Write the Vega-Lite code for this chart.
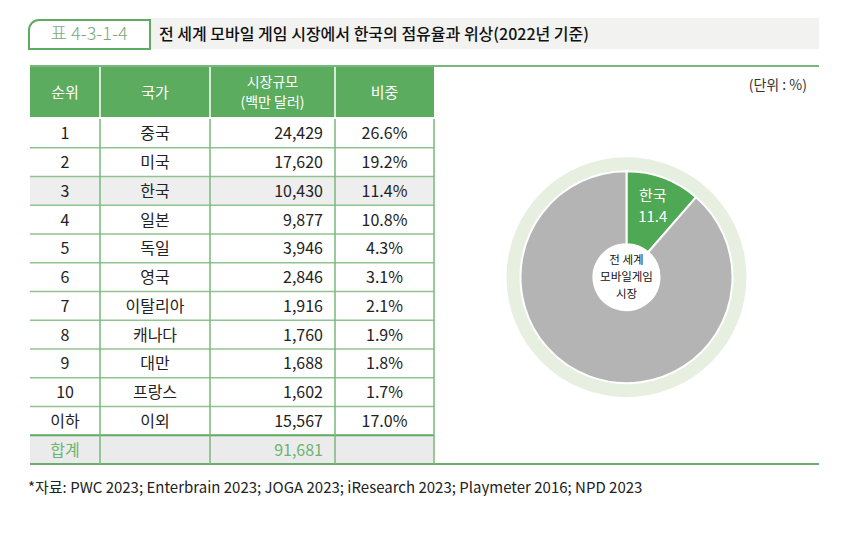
{
  "$schema": "https://vega.github.io/schema/vega-lite/v6.json",
  "background": "white",
  "padding": {"left": 28, "top": 18, "right": 0, "bottom": 0},
  "spacing": 0,
  "config": {
    "view": {"stroke": null},
    "font": "Noto Sans CJK KR",
    "axis": {"disable": true},
    "legend": {"disable": true},
    "concat": {"spacing": 0},
    "text": {"font": "Noto Sans CJK KR"}
  },
  "title": {
    "text": "*자료: PWC 2023; Enterbrain 2023; JOGA 2023; iResearch 2023; Playmeter 2016; NPD 2023",
    "orient": "bottom",
    "anchor": "start",
    "font": "Noto Sans CJK KR",
    "fontSize": 15,
    "fontWeight": "normal",
    "color": "#222222",
    "offset": 16
  },
  "datasets": {
    "table": [
      {"rank": "1", "country": "중국", "size": 24429, "share": 0.266},
      {"rank": "2", "country": "미국", "size": 17620, "share": 0.192},
      {"rank": "3", "country": "한국", "size": 10430, "share": 0.114},
      {"rank": "4", "country": "일본", "size": 9877, "share": 0.108},
      {"rank": "5", "country": "독일", "size": 3946, "share": 0.043},
      {"rank": "6", "country": "영국", "size": 2846, "share": 0.031},
      {"rank": "7", "country": "이탈리아", "size": 1916, "share": 0.021},
      {"rank": "8", "country": "캐나다", "size": 1760, "share": 0.019},
      {"rank": "9", "country": "대만", "size": 1688, "share": 0.018},
      {"rank": "10", "country": "프랑스", "size": 1602, "share": 0.017},
      {"rank": "이하", "country": "이외", "size": 15567, "share": 0.17},
      {"rank": "합계", "country": "", "size": 91681}
    ],
    "pie": [
      {"name": "한국", "share": 11.4},
      {"name": "그 외", "share": 88.6}
    ]
  },
  "vconcat": [
    {
      "width": 789,
      "height": 47,
      "data": {"values": [{"box": "표 4-3-1-4", "title": "전 세계 모바일 게임 시장에서 한국의 점유율과 위상(2022년 기준)"}]},
      "layer": [
        {
          "mark": {"type": "rect", "fill": "#f2f3f0"},
          "encoding": {"x": {"value": 120}, "x2": {"value": 789}, "y": {"value": 0}, "y2": {"value": 31}}
        },
        {
          "mark": {"type": "rect", "fill": "white", "stroke": "#5fab61", "strokeWidth": 2, "cornerRadiusTopLeft": 10},
          "encoding": {"x": {"value": -1}, "x2": {"value": 120}, "y": {"value": 2}, "y2": {"value": 31}}
        },
        {
          "mark": {"type": "text", "fontSize": 18, "color": "#7aa87c", "align": "center", "baseline": "middle", "fontWeight": 300},
          "encoding": {"text": {"field": "box"}, "x": {"value": 59}, "y": {"value": 17}}
        },
        {
          "mark": {"type": "text", "fontSize": 16, "color": "#111111", "align": "left", "baseline": "middle", "fontWeight": 500},
          "encoding": {"text": {"field": "title"}, "x": {"value": 129}, "y": {"value": 17}}
        }
      ]
    },
    {
      "width": 789,
      "height": 51,
      "data": {"values": [{"c1": "순위", "c2": "국가", "c3": "시장규모\n(백만 달러)", "c4": "비중", "unit": "(단위 : %)"}]},
      "layer": [
        {
          "mark": {"type": "rect", "fill": "#5cac5f"},
          "encoding": {
            "x": {"datum": 0, "type": "quantitative", "scale": {"type": "linear", "domain": [0, 1, 2, 3, 4, 5], "range": [0, 70, 180, 305, 404, 789], "nice": false, "zero": false}},
            "x2": {"datum": 4}
          }
        },
        {"mark": {"type": "rule", "color": "white", "strokeWidth": 1.5}, "encoding": {"x": {"datum": 1, "type": "quantitative"}}},
        {"mark": {"type": "rule", "color": "white", "strokeWidth": 1.5}, "encoding": {"x": {"datum": 2, "type": "quantitative"}}},
        {"mark": {"type": "rule", "color": "white", "strokeWidth": 1.5}, "encoding": {"x": {"datum": 3, "type": "quantitative"}}},
        {
          "mark": {"type": "rule", "color": "#7ab77c", "strokeWidth": 2},
          "encoding": {"x": {"datum": 0, "type": "quantitative"}, "x2": {"datum": 5}, "y": {"value": 0}}
        },
        {
          "mark": {"type": "text", "fontSize": 15, "color": "white", "baseline": "middle", "dy": 1},
          "encoding": {"text": {"field": "c1"}, "x": {"datum": 0.5, "type": "quantitative"}}
        },
        {
          "mark": {"type": "text", "fontSize": 15, "color": "white", "baseline": "middle", "dy": 1},
          "encoding": {"text": {"field": "c2"}, "x": {"datum": 1.5, "type": "quantitative"}}
        },
        {
          "mark": {"type": "text", "fontSize": 14, "color": "white", "baseline": "middle", "lineBreak": "\n", "lineHeight": 20.5, "dy": -9},
          "encoding": {"text": {"field": "c3"}, "x": {"datum": 2.5, "type": "quantitative"}}
        },
        {
          "mark": {"type": "text", "fontSize": 15, "color": "white", "baseline": "middle", "dy": 1},
          "encoding": {"text": {"field": "c4"}, "x": {"datum": 3.5, "type": "quantitative"}}
        },
        {
          "mark": {"type": "text", "fontSize": 14, "color": "#333333", "align": "right", "baseline": "middle", "dx": -12},
          "encoding": {"text": {"field": "unit"}, "x": {"datum": 5, "type": "quantitative"}, "y": {"value": 20}}
        }
      ]
    },
    {
      "width": 789,
      "height": 345,
      "data": {"name": "table"},
      "layer": [
        {
          "mark": {"type": "rect"},
          "encoding": {
            "x": {"datum": 0, "type": "quantitative", "scale": {"type": "linear", "domain": [0, 1, 2, 3, 4, 5], "range": [0, 70, 180, 305, 404, 789], "nice": false, "zero": false}},
            "x2": {"datum": 4},
            "y": {"field": "rank", "type": "nominal", "sort": null, "scale": {"type": "band", "domain": ["1", "2", "3", "4", "5", "6", "7", "8", "9", "10", "이하", "합계"], "paddingInner": 0, "paddingOuter": 0}},
            "fill": {
              "condition": [
                {"test": "datum.rank === '3'", "value": "#eeeeee"},
                {"test": "datum.rank === '합계'", "value": "#ebebeb"}
              ],
              "value": "white"
            }
          }
        },
        {
          "transform": [{"filter": "datum.rank !== '1' && datum.rank !== '합계'"}],
          "mark": {"type": "rule", "color": "#8fc38f", "strokeWidth": 1.5},
          "encoding": {
            "x": {"datum": 0, "type": "quantitative"},
            "x2": {"datum": 4},
            "y": {"field": "rank", "type": "nominal", "bandPosition": 0}
          }
        },
        {
          "transform": [{"filter": "datum.rank === '합계'"}],
          "mark": {"type": "rule", "color": "#5ea861", "strokeWidth": 2},
          "encoding": {
            "x": {"datum": 0, "type": "quantitative"},
            "x2": {"datum": 4},
            "y": {"field": "rank", "type": "nominal", "bandPosition": 0}
          }
        },
        {
          "transform": [{"filter": "datum.rank === '합계'"}],
          "mark": {"type": "rule", "color": "#6cac6e", "strokeWidth": 2},
          "encoding": {
            "x": {"datum": 0, "type": "quantitative"},
            "x2": {"datum": 5},
            "y": {"field": "rank", "type": "nominal", "bandPosition": 1}
          }
        },
        {"data": {"values": [{}]}, "mark": {"type": "rule", "color": "#79b87b", "strokeWidth": 1.5}, "encoding": {"x": {"datum": 1, "type": "quantitative"}}},
        {"data": {"values": [{}]}, "mark": {"type": "rule", "color": "#79b87b", "strokeWidth": 1.5}, "encoding": {"x": {"datum": 2, "type": "quantitative"}}},
        {"data": {"values": [{}]}, "mark": {"type": "rule", "color": "#79b87b", "strokeWidth": 1.5}, "encoding": {"x": {"datum": 3, "type": "quantitative"}}},
        {"data": {"values": [{}]}, "mark": {"type": "rule", "color": "#79b87b", "strokeWidth": 1.5}, "encoding": {"x": {"datum": 4, "type": "quantitative"}}},
        {
          "mark": {"type": "text", "fontSize": 16, "baseline": "middle", "dy": 1},
          "encoding": {
            "text": {"field": "rank"},
            "x": {"datum": 0.5, "type": "quantitative"},
            "y": {"field": "rank", "type": "nominal"},
            "color": {"condition": {"test": "datum.rank === '합계'", "value": "#6ab56c"}, "value": "#222222"}
          }
        },
        {
          "mark": {"type": "text", "fontSize": 16, "baseline": "middle", "color": "#222222", "dy": 1},
          "encoding": {
            "text": {"field": "country"},
            "x": {"datum": 1.5, "type": "quantitative"},
            "y": {"field": "rank", "type": "nominal"}
          }
        },
        {
          "mark": {"type": "text", "fontSize": 16, "baseline": "middle", "align": "right", "dx": -12, "dy": 1},
          "encoding": {
            "text": {"field": "size", "type": "quantitative", "format": ",d"},
            "x": {"datum": 3, "type": "quantitative"},
            "y": {"field": "rank", "type": "nominal"},
            "color": {"condition": {"test": "datum.rank === '합계'", "value": "#6ab56c"}, "value": "#222222"}
          }
        },
        {
          "transform": [{"filter": "isValid(datum.share)"}],
          "mark": {"type": "text", "fontSize": 16, "baseline": "middle", "color": "#222222", "dy": 1},
          "encoding": {
            "text": {"field": "share", "type": "quantitative", "format": ".1%"},
            "x": {"datum": 3.5, "type": "quantitative"},
            "y": {"field": "rank", "type": "nominal"}
          }
        },
        {
          "data": {"values": [{}]},
          "mark": {"type": "arc", "fill": "#e7efe1", "innerRadius": 104, "outerRadius": 120, "theta": 0, "theta2": 6.2832},
          "encoding": {"x": {"datum": 4.5, "type": "quantitative"}, "y": {"datum": "6", "type": "nominal"}}
        },
        {
          "data": {"name": "pie"},
          "mark": {"type": "arc", "innerRadius": 33, "outerRadius": 106, "stroke": "white", "strokeWidth": 2},
          "encoding": {
            "theta": {"field": "share", "type": "quantitative", "stack": true},
            "order": {"field": "share", "type": "quantitative", "sort": "ascending"},
            "color": {"field": "name", "type": "nominal", "scale": {"domain": ["한국", "그 외"], "range": ["#4fa854", "#b4b4b4"]}},
            "x": {"datum": 4.5, "type": "quantitative"},
            "y": {"datum": "6", "type": "nominal"}
          }
        },
        {
          "data": {"name": "pie"},
          "transform": [{"filter": "datum.name === '한국'"}],
          "mark": {"type": "text", "fontSize": 15, "color": "white", "baseline": "middle", "radius": 75, "dy": -11},
          "encoding": {
            "text": {"field": "name"},
            "theta": {"field": "share", "type": "quantitative", "stack": true},
            "x": {"datum": 4.5, "type": "quantitative"},
            "y": {"datum": "6", "type": "nominal"}
          }
        },
        {
          "data": {"name": "pie"},
          "transform": [{"filter": "datum.name === '한국'"}],
          "mark": {"type": "text", "fontSize": 15, "color": "white", "baseline": "middle", "radius": 75, "dy": 10},
          "encoding": {
            "text": {"field": "share", "type": "quantitative", "format": ".1f"},
            "theta": {"field": "share", "type": "quantitative", "stack": true},
            "x": {"datum": 4.5, "type": "quantitative"},
            "y": {"datum": "6", "type": "nominal"}
          }
        },
        {
          "data": {"values": [{"center": "전 세계\n모바일게임\n시장"}]},
          "mark": {"type": "text", "fontSize": 11.5, "color": "#111111", "baseline": "middle", "lineBreak": "\n", "lineHeight": 16.8, "dy": -16},
          "encoding": {
            "text": {"field": "center"},
            "x": {"datum": 4.5, "type": "quantitative"},
            "y": {"datum": "6", "type": "nominal"}
          }
        }
      ]
    }
  ]
}
